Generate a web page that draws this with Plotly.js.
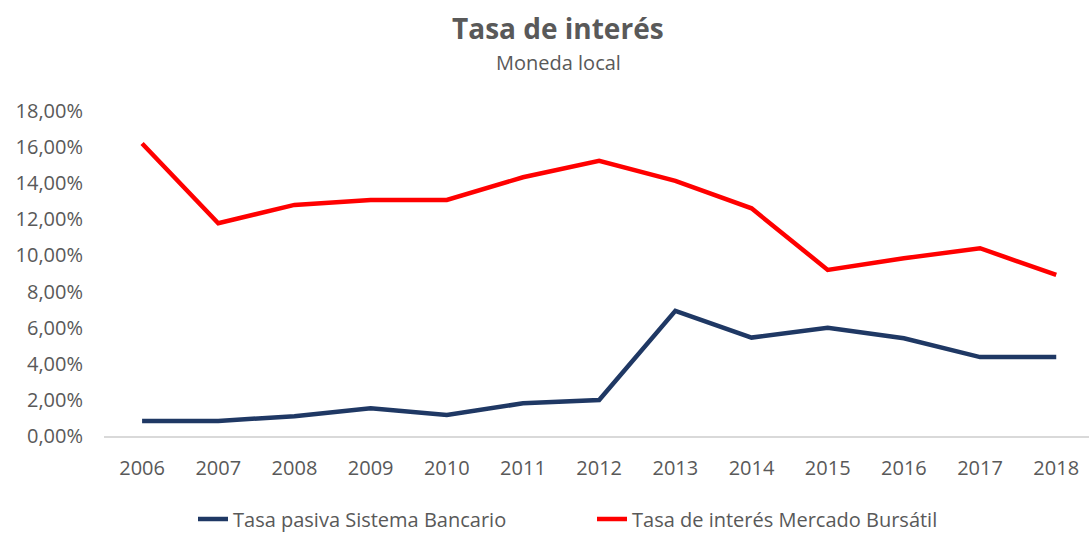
<!DOCTYPE html>
<html>
<head>
<meta charset="utf-8">
<script src="https://cdn.plot.ly/plotly-3.0.1.min.js"></script>
<style>html,body{margin:0;padding:0;background:#fff;}#chart{width:1089px;height:533px;}</style>
</head>
<body>
<div id="chart"></div>
<script>
const years = ["2006","2007","2008","2009","2010","2011","2012","2013","2014","2015","2016","2017","2018"];
const tasaPasiva = [0.0083,0.0083,0.0110,0.0153,0.0116,0.0181,0.0199,0.0693,0.0545,0.0600,0.0541,0.0437,0.0437];
const tasaBursatil = [0.1620,0.1178,0.1280,0.1307,0.1307,0.1433,0.1524,0.1413,0.1261,0.0920,0.0984,0.1040,0.0892];
const seriesNames = ["Tasa pasiva Sistema Bancario","Tasa de interés Mercado Bursátil"];
const yTicks = [0,0.02,0.04,0.06,0.08,0.10,0.12,0.14,0.16,0.18];
const titleText = "Tasa de interés";
const subtitleText = "Moneda local";

const font = "'Open Sans', sans-serif";
const gray = "#595959";

const traces = [
  {x: years, y: tasaPasiva, name: seriesNames[0], type: "scatter", mode: "lines",
   line: {color: "#1f3864", width: 4.5}},
  {x: years, y: tasaBursatil, name: seriesNames[1], type: "scatter", mode: "lines",
   line: {color: "#ff0000", width: 4.5}}
];

const layout = {
  width: 1089, height: 533,
  paper_bgcolor: "#fff", plot_bgcolor: "#fff",
  separators: ",.",
  margin: {l: 104, r: 0, t: 111, b: 97},
  font: {family: font, color: gray, size: 19},
  showlegend: true,
  annotations: [
    {text: "<b>" + titleText + "</b>", xref: "paper", yref: "paper",
     x: (558 - 104) / 985, y: (436 - 28) / 325, xanchor: "center", yanchor: "middle",
     showarrow: false, font: {family: font, size: 28, color: gray}},
    {text: subtitleText, xref: "paper", yref: "paper",
     x: (558 - 104) / 985, y: (436 - 62) / 325, xanchor: "center", yanchor: "middle",
     showarrow: false, font: {family: font, size: 20, color: gray}}
  ],
  xaxis: {
    type: "category", range: [-0.5, 12.43],
    showgrid: false, zeroline: false,
    showline: true, linecolor: "#d9d9d9", linewidth: 1.5,
    ticks: "outside", ticklen: 13, tickcolor: "rgba(0,0,0,0)",
    tickfont: {family: font, size: 20, color: gray},
    fixedrange: true
  },
  yaxis: {
    range: [0, 0.18], tickvals: yTicks, tickformat: ".2%",
    showgrid: false, zeroline: false, showline: false,
    ticks: "outside", ticklen: 16, tickcolor: "rgba(0,0,0,0)",
    tickfont: {family: font, size: 20, color: gray},
    fixedrange: true
  },
  legend: {
    orientation: "h", x: (193 - 104) / 985, xanchor: "left",
    yref: "container", y: (533 - 519) / 533, yanchor: "middle",
    font: {family: font, size: 20, color: gray},
    entrywidth: 354, entrywidthmode: "pixels", tracegroupgap: 0
  }
};

Plotly.newPlot("chart", traces, layout, {displayModeBar: false, staticPlot: true});
</script>
</body>
</html>
